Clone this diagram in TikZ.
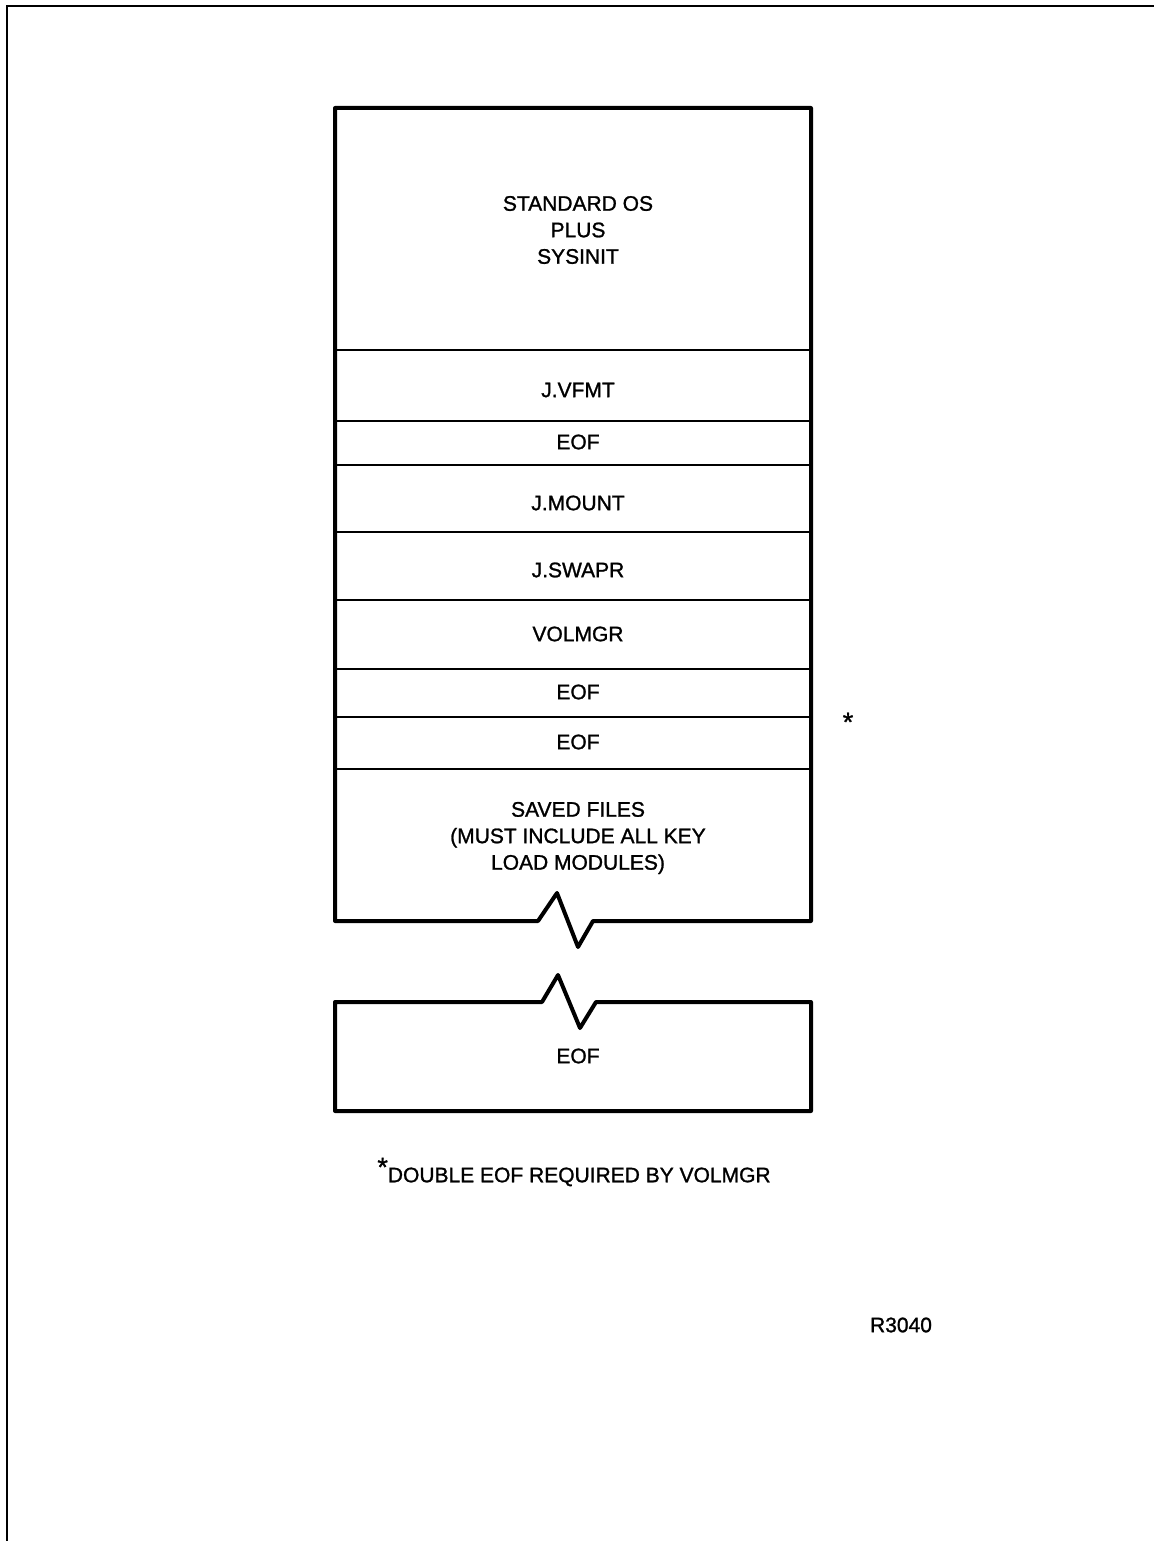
\documentclass[tikz,border=0pt]{standalone}
\usepackage{fontspec}
\setmainfont[FakeBold=1.2]{Liberation Sans}
\begin{document}
\begin{tikzpicture}[x=1pt,y=-1pt,
  lbl/.style={font=\fontsize{21}{26.5}\selectfont, align=center, inner sep=0pt},
  starlbl/.style={font=\fontsize{27}{27}\selectfont, inner sep=0pt},
  outerline/.style={line width=4pt, line join=round},
  divider/.style={line width=2pt},
  frameline/.style={line width=2.5pt}]
\useasboundingbox (0,0) rectangle (1154,1541);
% page frame
\draw[frameline] (7,1541) -- (7,6) -- (1154,6);
% upper stack outline with break
\draw[outerline] (335,108) -- (811,108) -- (811,921) -- (593,921) -- (578,947)
   -- (557,893) -- (538,921) -- (335,921) -- cycle;
% dividers
\foreach \yy in {350,421,465,532,600,669,717,769}
  \draw[divider] (335,\yy) -- (811,\yy);
% lower box with break
\draw[outerline] (335,1002) -- (542,1002) -- (558,975) -- (580,1028) -- (596,1002)
   -- (811,1002) -- (811,1111) -- (335,1111) -- cycle;
% labels
\node[lbl] (os) at (578,230) {STANDARD OS\\PLUS\\SYSINIT};
\node[lbl] (vfmt) at (578,390) {J.VFMT};
\node[lbl] (eofa) at (578,442) {EOF};
\node[lbl] (mount) at (578,503) {J.MOUNT};
\node[lbl] (swapr) at (578,570) {J.SWAPR};
\node[lbl] (volmgr) at (578,634) {VOLMGR};
\node[lbl] (eofb) at (578,692) {EOF};
\node[lbl] (eofc) at (578,742) {EOF};
\node[starlbl] (star) at (848,722) {*};
\node[lbl] (saved) at (578,838) {SAVED FILES\\(MUST INCLUDE ALL KEY\\LOAD MODULES)};
\node[lbl] (eofd) at (578,1056) {EOF};
\node[lbl] (note) at (574,1172) {\raisebox{0.28em}{\fontsize{27}{27}\selectfont *}DOUBLE EOF REQUIRED BY VOLMGR};
\node[lbl] (ref) at (901,1325) {R3040};
\end{tikzpicture}
\end{document}
